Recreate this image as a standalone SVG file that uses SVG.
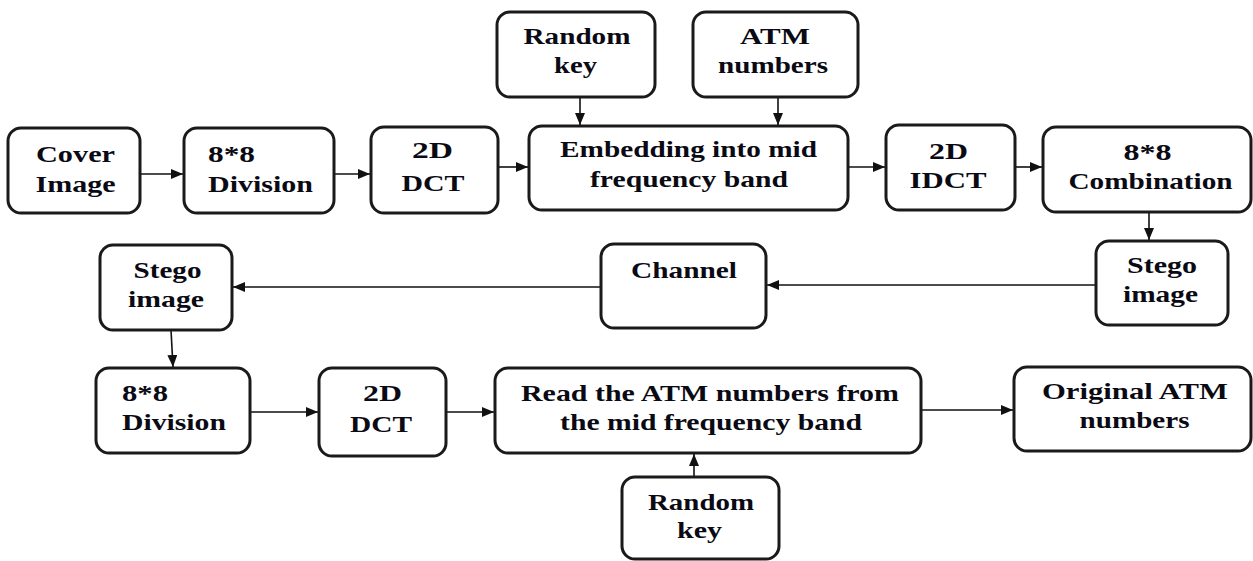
<svg xmlns="http://www.w3.org/2000/svg" width="1253" height="561" viewBox="0 0 1253 561">
<defs>
<marker id="ah" markerUnits="userSpaceOnUse" markerWidth="12" markerHeight="10" refX="12" refY="5" orient="auto">
<path d="M0,0 L12,5 L0,10 z" fill="#111"/>
</marker>
<style>
.box{fill:#fff;stroke:#1a1a1a;stroke-width:3}
.t{font-weight:bold;font-size:23px;fill:#0a0a14}
.c{text-anchor:middle}
.cn{fill:none;stroke:#111;stroke-width:1.6;marker-end:url(#ah)}
</style>
</defs>
<rect width="1253" height="561" fill="#fff"/>
<g id="connectors">
<line class="cn" x1="140" y1="174" x2="183" y2="174"/>
<line class="cn" x1="334" y1="174" x2="370" y2="174"/>
<line class="cn" x1="498" y1="167" x2="528" y2="167"/>
<line class="cn" x1="580" y1="97" x2="580" y2="125"/>
<line class="cn" x1="778" y1="97" x2="778" y2="125"/>
<line class="cn" x1="848" y1="167" x2="885" y2="167"/>
<line class="cn" x1="1015" y1="167" x2="1042" y2="167"/>
<line class="cn" x1="1149" y1="212" x2="1149" y2="240"/>
<line class="cn" x1="1096" y1="285" x2="767" y2="285"/>
<line class="cn" x1="601" y1="287" x2="233" y2="287"/>
<line class="cn" x1="171" y1="330" x2="173" y2="367"/>
<line class="cn" x1="250" y1="412" x2="318" y2="412"/>
<line class="cn" x1="446" y1="412" x2="494" y2="412"/>
<line class="cn" x1="921" y1="410" x2="1013" y2="410"/>
<line class="cn" x1="694" y1="477" x2="694" y2="454"/>
</g>
<g font-family="Liberation Serif, Times New Roman, DejaVu Serif, serif">
<g id="cover">
<rect class="box" x="8" y="128" width="132" height="85" rx="13"/>
<text class="t c" x="75.5" y="162" textLength="79" lengthAdjust="spacingAndGlyphs">Cover</text>
<text class="t c" x="75.5" y="192" textLength="80" lengthAdjust="spacingAndGlyphs">Image</text>
</g>
<g id="division1">
<rect class="box" x="184" y="128" width="150" height="85" rx="13"/>
<text class="t" x="208" y="162" textLength="47" lengthAdjust="spacingAndGlyphs">8*8</text>
<text class="t" x="208" y="192" textLength="105" lengthAdjust="spacingAndGlyphs">Division</text>
</g>
<g id="dct1">
<rect class="box" x="371" y="127" width="127" height="86" rx="13"/>
<text class="t c" x="432.5" y="158" textLength="41" lengthAdjust="spacingAndGlyphs">2D</text>
<text class="t c" x="433" y="191" textLength="63" lengthAdjust="spacingAndGlyphs">DCT</text>
</g>
<g id="randomkey1">
<rect class="box" x="497" y="12" width="158" height="85" rx="13"/>
<text class="t c" x="577" y="44" textLength="107" lengthAdjust="spacingAndGlyphs">Random</text>
<text class="t c" x="575.5" y="73" textLength="43" lengthAdjust="spacingAndGlyphs">key</text>
</g>
<g id="atm">
<rect class="box" x="693" y="12" width="165" height="85" rx="13"/>
<text class="t c" x="775" y="44" textLength="70" lengthAdjust="spacingAndGlyphs">ATM</text>
<text class="t c" x="773" y="73" textLength="110" lengthAdjust="spacingAndGlyphs">numbers</text>
</g>
<g id="embedding">
<rect class="box" x="529" y="126" width="319" height="84" rx="13"/>
<text class="t c" x="688.5" y="157" textLength="257" lengthAdjust="spacingAndGlyphs">Embedding into mid</text>
<text class="t c" x="689" y="187" textLength="198" lengthAdjust="spacingAndGlyphs">frequency band</text>
</g>
<g id="idct">
<rect class="box" x="886" y="125" width="129" height="85" rx="13"/>
<text class="t c" x="948.5" y="159" textLength="39" lengthAdjust="spacingAndGlyphs">2D</text>
<text class="t c" x="948" y="188" textLength="77" lengthAdjust="spacingAndGlyphs">IDCT</text>
</g>
<g id="combination">
<rect class="box" x="1043" y="127" width="208" height="85" rx="13"/>
<text class="t c" x="1147.5" y="160" textLength="48" lengthAdjust="spacingAndGlyphs">8*8</text>
<text class="t c" x="1150.5" y="189" textLength="164" lengthAdjust="spacingAndGlyphs">Combination</text>
</g>
<g id="stego1">
<rect class="box" x="1096" y="241" width="132" height="84" rx="13"/>
<text class="t c" x="1162" y="273" textLength="70" lengthAdjust="spacingAndGlyphs">Stego</text>
<text class="t c" x="1160.5" y="302" textLength="75" lengthAdjust="spacingAndGlyphs">image</text>
</g>
<g id="channel">
<rect class="box" x="601" y="244" width="165" height="84" rx="13"/>
<text class="t c" x="684" y="278" textLength="106" lengthAdjust="spacingAndGlyphs">Channel</text>
</g>
<g id="stego2">
<rect class="box" x="100" y="245" width="132" height="85" rx="13"/>
<text class="t c" x="167.5" y="278" textLength="68" lengthAdjust="spacingAndGlyphs">Stego</text>
<text class="t c" x="166" y="307" textLength="76" lengthAdjust="spacingAndGlyphs">image</text>
</g>
<g id="division2">
<rect class="box" x="96" y="368" width="154" height="85" rx="13"/>
<text class="t" x="122" y="401" textLength="46" lengthAdjust="spacingAndGlyphs">8*8</text>
<text class="t" x="122" y="430" textLength="104" lengthAdjust="spacingAndGlyphs">Division</text>
</g>
<g id="dct2">
<rect class="box" x="319" y="368" width="127" height="88" rx="13"/>
<text class="t c" x="382.5" y="401" textLength="39" lengthAdjust="spacingAndGlyphs">2D</text>
<text class="t c" x="381" y="432" textLength="62" lengthAdjust="spacingAndGlyphs">DCT</text>
</g>
<g id="read">
<rect class="box" x="495" y="368" width="426" height="85" rx="13"/>
<text class="t c" x="710" y="401" textLength="378" lengthAdjust="spacingAndGlyphs">Read the ATM numbers from</text>
<text class="t c" x="711" y="430" textLength="302" lengthAdjust="spacingAndGlyphs">the mid frequency band</text>
</g>
<g id="original">
<rect class="box" x="1014" y="367" width="237" height="84" rx="13"/>
<text class="t c" x="1135" y="399" textLength="186" lengthAdjust="spacingAndGlyphs">Original ATM</text>
<text class="t c" x="1134.5" y="428" textLength="110" lengthAdjust="spacingAndGlyphs">numbers</text>
</g>
<g id="randomkey2">
<rect class="box" x="622" y="477" width="157" height="82" rx="13"/>
<text class="t c" x="701" y="510" textLength="106" lengthAdjust="spacingAndGlyphs">Random</text>
<text class="t c" x="699.5" y="538" textLength="45" lengthAdjust="spacingAndGlyphs">key</text>
</g>
</g>
</svg>
